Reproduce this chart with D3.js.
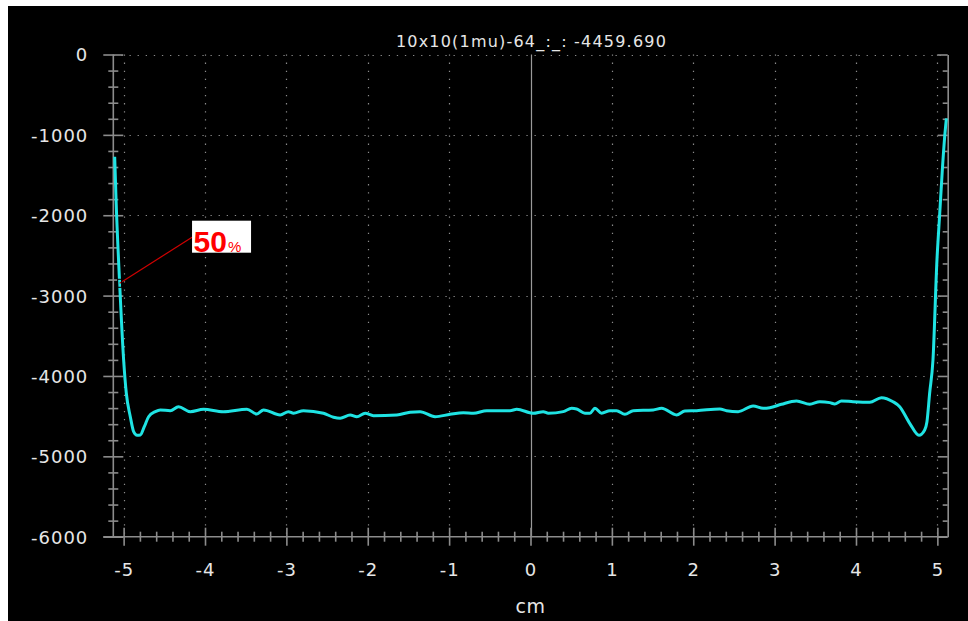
<!DOCTYPE html>
<html>
<head>
<meta charset="utf-8">
<script src="https://cdn.jsdelivr.net/npm/d3@7"></script>
<style>
  html, body { margin: 0; padding: 0; background: #fff; }
  svg { display: block; }
</style>
</head>
<body>
<svg id="chart" width="968" height="621"></svg>
<script>
// Profile: position (cm) vs. dose value
const titleText = "10x10(1mu)-64_:_: -4459.690";
const xLabel = "cm";

const positionCm = [
  -5.110, -5.093, -5.049, -5.000, -4.967, -4.918, -4.877, -4.835, -4.795, -4.746,
  -4.693, -4.611, -4.550, -4.427, -4.325, -4.181, -4.018, -3.776, -3.485, -3.362,
  -3.281, -3.076, -2.974, -2.913, -2.790, -2.544, -2.421, -2.339, -2.216, -2.134,
  -2.032, -1.930, -1.643, -1.480, -1.357, -1.173, -0.988, -0.825, -0.702, -0.538,
  -0.252, -0.169, 0.034, 0.157, 0.219, 0.403, 0.506, 0.567, 0.669, 0.731,
  0.792, 0.874, 0.976, 1.058, 1.160, 1.262, 1.508, 1.611, 1.795, 1.897,
  2.041, 2.327, 2.409, 2.552, 2.736, 2.859, 2.941, 3.084, 3.269, 3.432,
  3.555, 3.678, 3.739, 3.821, 3.964, 4.169, 4.312, 4.455, 4.537, 4.660,
  4.774, 4.844, 4.872, 4.905, 4.946, 4.995, 5.028, 5.061, 5.090, 5.111
];
const doseValue = [
  -1272, -1810, -2847, -3801, -4215, -4507, -4693, -4738, -4734, -4631,
  -4507, -4444, -4423, -4432, -4382, -4444, -4414, -4444, -4414, -4473,
  -4423, -4485, -4444, -4464, -4432, -4464, -4514, -4526, -4485, -4507,
  -4464, -4494, -4485, -4452, -4444, -4507, -4477, -4457, -4464, -4432,
  -4432, -4414, -4464, -4444, -4464, -4444, -4402, -4411, -4464, -4464,
  -4402, -4464, -4432, -4432, -4477, -4432, -4423, -4402, -4485, -4436,
  -4432, -4410, -4432, -4444, -4373, -4402, -4395, -4352, -4311, -4352,
  -4320, -4332, -4348, -4311, -4320, -4327, -4270, -4320, -4382, -4589,
  -4738, -4672, -4569, -4215, -3801, -2557, -1997, -1437, -1023, -794
];

const xMajorTicks = [-5, -4, -3, -2, -1, 0, 1, 2, 3, 4, 5];
const yMajorTicks = [0, -1000, -2000, -3000, -4000, -5000, -6000];

// Annotated point on the left penumbra
const markerCm = -5.049;
const markerValue = -2847;
const markerText = "50";
const markerUnit = "%";

(function draw() {
  const svg = d3.select("#chart");
  const W = 968, H = 621;
  const pL = 113.3, pR = 947.7, pT = 54.5, pB = 536.7;
  const axisColor = "#8c8c8c";
  const textColor = "#e6e6e6";
  const labelFont = "'DejaVu Sans', Verdana, sans-serif";

  // White edge and black panel
  svg.append("rect").attr("width", W).attr("height", H).attr("fill", "#fff");
  svg.append("rect").attr("x", 8).attr("y", 6).attr("width", W - 8).attr("height", H - 6).attr("fill", "#000");

  const x = d3.scaleLinear().domain([-5.127, 5.127]).range([pL, pR]);
  const y = d3.scaleLinear().domain([-6000, 0]).range([pB, pT]);

  // Dotted grid
  const grid = svg.append("g").attr("stroke", "#8a8a8a").attr("stroke-width", 1.2)
    .attr("stroke-dasharray", "1.3,6.8");
  grid.selectAll("line.gy").data(yMajorTicks.filter(v => v > -6000)).join("line")
    .attr("x1", pL).attr("x2", pR)
    .attr("y1", d => Math.round(y(d)) + 0.5).attr("y2", d => Math.round(y(d)) + 0.5);
  grid.selectAll("line.gx").data(xMajorTicks.filter(v => v !== 0)).join("line")
    .attr("x1", d => Math.round(x(d)) + 0.5).attr("x2", d => Math.round(x(d)) + 0.5)
    .attr("y1", pT).attr("y2", pB);

  // Solid centre line
  svg.append("line")
    .attr("x1", Math.round(x(0)) + 0.5).attr("x2", Math.round(x(0)) + 0.5)
    .attr("y1", pT).attr("y2", pB)
    .attr("stroke", "#9a9a9a").attr("stroke-width", 1.2);

  function styleAxis(g) {
    g.select(".domain").attr("stroke", axisColor).attr("stroke-width", 1.6);
    g.selectAll(".tick line").attr("stroke", axisColor).attr("stroke-width", 1.6);
  }

  const yMinorTicks = d3.range(-6000, 1, 200).filter(v => v % 1000 !== 0);
  const xMinorTicks = d3.range(-50, 51, 2).map(v => v / 10).filter(v => Math.abs(v % 1) > 1e-6);

  // Left axis
  const gLeft = svg.append("g").attr("transform", `translate(${pL},0)`);
  gLeft.call(d3.axisLeft(y).tickValues(yMajorTicks).tickSize(10).tickSizeOuter(0).tickFormat(d3.format("d")));
  gLeft.selectAll(".tick line").attr("x1", 10).attr("x2", -10);
  gLeft.selectAll(".tick text")
    .attr("x", -25).attr("dy", "0.36em")
    .attr("fill", textColor).attr("font-family", labelFont).attr("font-size", 18)
    .attr("letter-spacing", "1px").attr("text-anchor", "end")
    .text(d => String(d));
  styleAxis(gLeft);
  gLeft.select(".domain").attr("d", `M0,${pT}V${pB}`);
  const gLeftMinor = svg.append("g").attr("transform", `translate(${pL},0)`);
  gLeftMinor.call(d3.axisLeft(y).tickValues(yMinorTicks).tickSize(5).tickSizeOuter(0).tickFormat(""));
  gLeftMinor.selectAll(".tick line").attr("x1", 5).attr("x2", -5);
  gLeftMinor.select(".domain").remove();
  styleAxis(gLeftMinor);

  // Right axis (inner ticks only)
  const gRight = svg.append("g").attr("transform", `translate(${pR},0)`);
  gRight.call(d3.axisLeft(y).tickValues(yMajorTicks).tickSize(10).tickSizeOuter(0).tickFormat(""));
  styleAxis(gRight);
  const gRightMinor = svg.append("g").attr("transform", `translate(${pR},0)`);
  gRightMinor.call(d3.axisLeft(y).tickValues(yMinorTicks).tickSize(5).tickSizeOuter(0).tickFormat(""));
  gRightMinor.select(".domain").remove();
  styleAxis(gRightMinor);

  // Bottom axis
  const gBottom = svg.append("g").attr("transform", `translate(0,${pB})`);
  gBottom.call(d3.axisBottom(x).tickValues(xMajorTicks).tickSize(9).tickSizeOuter(0).tickFormat(d3.format("d")));
  gBottom.selectAll(".tick line").attr("y1", -9).attr("y2", 9);
  gBottom.selectAll(".tick text")
    .attr("y", 39).attr("dy", 0)
    .attr("fill", textColor).attr("font-family", labelFont).attr("font-size", 18)
    .attr("letter-spacing", "1px")
    .text(d => String(d));
  styleAxis(gBottom);
  gBottom.select(".domain").attr("d", `M${pL - 10},0H${pR}`);
  const gBottomMinor = svg.append("g").attr("transform", `translate(0,${pB})`);
  gBottomMinor.call(d3.axisBottom(x).tickValues(xMinorTicks).tickSize(5).tickSizeOuter(0).tickFormat(""));
  gBottomMinor.selectAll(".tick line").attr("y1", -5).attr("y2", 5);
  gBottomMinor.select(".domain").remove();
  styleAxis(gBottomMinor);

  // Axis title
  svg.append("text")
    .attr("x", x(0)).attr("y", 613)
    .attr("text-anchor", "middle")
    .attr("fill", textColor).attr("font-family", labelFont).attr("font-size", 19)
    .attr("letter-spacing", "0.5px")
    .text(xLabel);

  // Chart title
  svg.append("text")
    .attr("x", x(0) + 1).attr("y", 47)
    .attr("text-anchor", "middle")
    .attr("fill", textColor).attr("font-family", labelFont).attr("font-size", 16)
    .attr("letter-spacing", "1.2px")
    .text(titleText);

  // Profile curve
  const profile = positionCm.map((p, i) => [p, doseValue[i]]);
  const line = d3.line().x(d => x(d[0])).y(d => y(d[1])).curve(d3.curveMonotoneX);
  svg.append("path")
    .datum(profile)
    .attr("d", line)
    .attr("fill", "none")
    .attr("stroke", "#1fe3e3")
    .attr("stroke-width", 3)
    .attr("stroke-linejoin", "round");

  // 50% annotation
  const mx = x(markerCm), my = y(markerValue);
  const boxX = mx + 72.4, boxY = my - 62.6, boxW = 59, boxH = 32;
  svg.append("line")
    .attr("x1", mx).attr("y1", my)
    .attr("x2", boxX).attr("y2", boxY + 16.5)
    .attr("stroke", "#d00000").attr("stroke-width", 1.2);
  svg.append("rect")
    .attr("x", mx - 2).attr("y", my - 4).attr("width", 4).attr("height", 8)
    .attr("fill", "none").attr("stroke", "#000").attr("stroke-width", 1);
  svg.append("rect")
    .attr("x", boxX).attr("y", boxY).attr("width", boxW).attr("height", boxH)
    .attr("fill", "#fff");
  const lbl = svg.append("text")
    .attr("x", boxX + 1.5).attr("y", boxY + 31)
    .attr("fill", "#ff0000")
    .attr("font-family", "'Liberation Sans', Arial, sans-serif")
    .attr("font-weight", "bold").attr("font-size", 30);
  lbl.append("tspan").text(markerText);
  lbl.append("tspan").attr("font-size", 15).attr("font-weight", "normal").attr("dx", 1).text(markerUnit);
})();
</script>
</body>
</html>
